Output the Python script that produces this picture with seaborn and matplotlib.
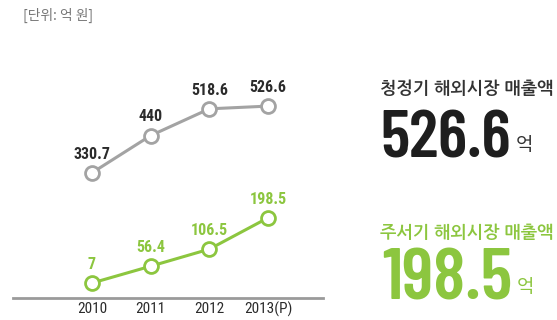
import matplotlib
matplotlib.use("Agg")
import matplotlib.pyplot as plt
import seaborn as sns
import pandas as pd

# Data (unit: 억 원)
years = ["2010", "2011", "2012", "2013(P)"]
purifier = [330.7, 440, 518.6, 526.6]   # 청정기 해외시장 매출액
humidifier = [7, 56.4, 106.5, 198.5]    # 주서기 해외시장 매출액

GRAY = "#a3a3a3"
GREEN = "#8cc63f"
DARK = "#2b2b2b"
COND = ["Roboto Condensed", "DejaVu Sans"]
DISPLAY = ["Barlow Condensed", "Roboto Condensed", "DejaVu Sans"]
KR = ["Noto Sans CJK KR", "DejaVu Sans"]
KR_HEAD = ["NanumGothic", "Noto Sans CJK KR", "DejaVu Sans"]

sns.set_style("white")
plt.rcParams["font.family"] = KR

df = pd.DataFrame({
    "pos": list(range(len(years))) * 2,
    "value": purifier + humidifier,
    "series": ["purifier"] * len(years) + ["humidifier"] * len(years),
})

fig = plt.figure(figsize=(5.57, 3.2), dpi=100)
W, H = 557, 320
# axes in pixel coordinates: left 13, right 323, top 60, bottom 298
ax = fig.add_axes([13 / W, (H - 298) / H, (323 - 13) / W, (298 - 60) / H])

sns.lineplot(
    data=df, x="pos", y="value", hue="series",
    palette={"purifier": GRAY, "humidifier": GREEN},
    marker="o", markersize=10, markerfacecolor="white", markeredgewidth=2.0,
    linewidth=2.2, legend=False, ax=ax,
)
# marker edges take the series colour
for line, col in zip(ax.lines, [GRAY, GREEN]):
    line.set_markeredgecolor(col)

ax.set_xlim(-1.346, 3.937)
ax.set_ylim(-37, 662)
ax.set_xlabel("")
ax.set_ylabel("")
ax.set_yticks([])
ax.set_xticks(range(len(years)))
ax.set_xticklabels(years, family=COND, fontsize=11, color=DARK)
ax.tick_params(axis="x", length=0, pad=3)
for s in ["left", "right", "top"]:
    ax.spines[s].set_visible(False)
ax.spines["bottom"].set_color("#9a9a9a")
ax.spines["bottom"].set_linewidth(2.0)

# value labels above each point
for vals, col in ((purifier, DARK), (humidifier, GREEN)):
    for i, v in enumerate(vals):
        ax.annotate(f"{v:g}", (i, v), xytext=(0, 13.5), textcoords="offset points",
                    ha="center", va="center", family=COND, fontweight="bold",
                    fontsize=11.5, color=col)

renderer = fig.canvas.get_renderer()


def fit_width(t, width_px):
    """Scale a text's font size so that it spans width_px pixels."""
    bb = t.get_window_extent(renderer)
    t.set_fontsize(t.get_fontsize() * width_px / bb.width)


# unit note
note = fig.text(23 / W, 1 - 15 / H, "[단위: 억 원]", fontsize=9.5, color="#777777",
                ha="left", va="center", family=KR)
fit_width(note, 70)

# headline figures on the right
h1 = fig.text(380 / W, 1 - 88 / H, "청정기 해외시장 매출액", fontsize=13, fontweight="bold",
              color="#333333", ha="left", va="center", family=KR_HEAD)
fit_width(h1, 172)
n1 = fig.text(380 / W, 1 - 158 / H, f"{purifier[-1]:g}", fontsize=50, fontweight=600,
              color="#1e1e1e", ha="left", va="baseline", family=DISPLAY)
fit_width(n1, 131)
fig.text(516 / W, 1 - 146 / H, "억", fontsize=13.5, color="#333333",
         ha="left", va="center", family=KR)

h2 = fig.text(380 / W, 1 - 233 / H, "주서기 해외시장 매출액", fontsize=13, fontweight="bold",
              color=GREEN, ha="left", va="center", family=KR_HEAD)
fit_width(h2, 172)
n2 = fig.text(382 / W, 1 - 300 / H, f"{humidifier[-1]:g}", fontsize=50, fontweight=600,
              color=GREEN, ha="left", va="baseline", family=DISPLAY)
fit_width(n2, 130)
fig.text(517 / W, 1 - 287 / H, "억", fontsize=13.5, color=GREEN,
         ha="left", va="center", family=KR)

fig.savefig("out.png", dpi=100)
